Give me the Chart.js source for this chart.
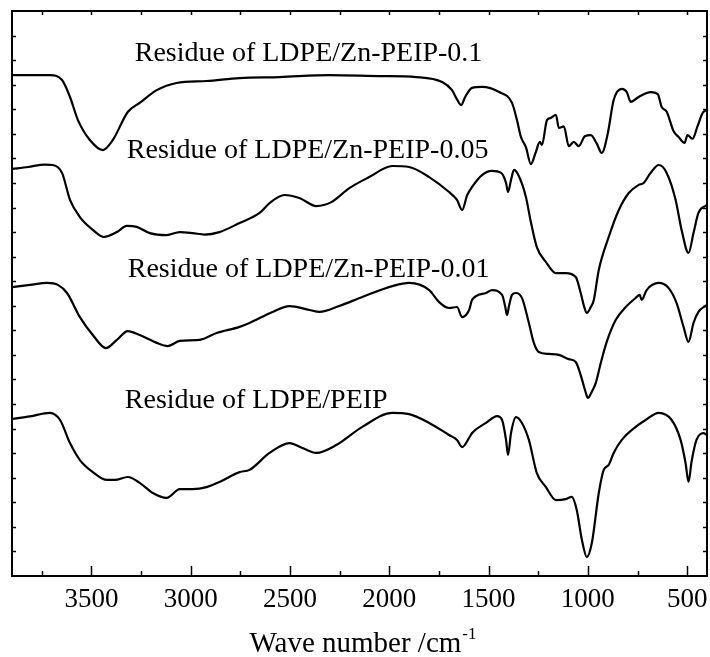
<!DOCTYPE html>
<html>
<head>
<meta charset="utf-8">
<script src="https://cdn.jsdelivr.net/npm/chart.js@4.4.0/dist/chart.umd.min.js"></script>
<style>
  html, body { margin: 0; padding: 0; background: #fff; }
  #wrap { width: 710px; height: 657px; }
</style>
</head>
<body>
<div id="wrap"><canvas id="c" width="710" height="657"></canvas></div>
<script>
// ---- Data (wave number in cm-1, transmittance in arbitrary offset units) ----
const seriesNames = [
  "Residue of LDPE/Zn-PEIP-0.1",
  "Residue of LDPE/Zn-PEIP-0.05",
  "Residue of LDPE/Zn-PEIP-0.01",
  "Residue of LDPE/PEIP"
];

const wn1 = [3900,3809,3709,3648,3608,3568,3508,3442,3392,3317,3257,3171,3071,2920,2754,2553,2302,2050,1865,1734,1684,1659,1638,1618,1583,1533,1447,1382,1357,1337,1312,1287,1262,1242,1231,1206,1186,1161,1146,1121,1096,1071,1046,1015,985,955,930,900,870,829,804,784,744,684,648,628,603,568,543,513,498,473,448,422,402];
const t1  = [20.39,20.39,20.39,20.19,19.50,18.56,17.75,17.34,17.75,18.89,19.26,19.78,20.07,20.15,20.27,20.31,20.39,20.35,20.31,20.11,19.78,19.4,19.17,19.5,19.87,19.91,19.70,19.26,18.56,17.87,17.46,16.77,17.26,17.67,17.55,18.56,18.65,18.77,18.24,18.3,17.5,17.67,17.5,17.9,17.95,17.6,17.22,18.0,19.38,19.83,19.70,19.30,19.50,19.70,19.62,19.09,18.9,18.1,17.87,17.63,17.95,17.8,18.3,18.85,18.97];

const wn2 = [3900,3819,3734,3694,3648,3608,3558,3493,3437,3372,3322,3272,3206,3121,3055,2990,2930,2855,2754,2653,2603,2528,2453,2367,2292,2201,2101,1985,1900,1799,1699,1659,1633,1608,1583,1533,1483,1437,1412,1402,1387,1372,1352,1312,1287,1257,1211,1161,1111,1061,1036,1020,1005,985,970,945,895,844,794,744,719,684,643,603,558,528,493,468,443,402];
const t2  = [16.57,16.65,16.75,16.73,16.41,15.31,14.61,14.09,13.80,14.0,14.25,14.21,13.96,13.88,14.0,13.96,13.9,14.0,14.37,14.78,15.18,15.51,15.39,15.06,15.22,15.79,16.24,16.69,16.65,16.24,15.63,15.31,14.90,15.5,15.84,16.32,16.49,16.41,16.0,15.63,16.12,16.53,16.35,15.43,14.41,13.39,12.78,12.33,12.33,12.17,11.52,11.0,10.71,10.95,11.24,12.46,13.80,14.90,15.59,15.92,16.0,16.41,16.73,16.41,15.31,14.09,13.15,13.96,14.78,15.10];

const wn3 = [3900,3809,3724,3669,3623,3558,3493,3427,3372,3317,3257,3171,3116,3055,2955,2870,2754,2704,2588,2503,2402,2352,2252,2136,1980,1900,1799,1749,1699,1659,1633,1598,1583,1513,1483,1432,1417,1407,1397,1382,1362,1332,1297,1272,1247,1196,1146,1096,1061,1036,1010,1000,980,960,935,905,860,809,759,739,729,704,643,593,553,518,493,468,443,402];
const t3  = [11.76,11.85,11.93,11.85,11.52,10.54,9.81,9.28,9.61,9.97,9.81,9.49,9.36,9.57,9.61,9.89,10.14,10.30,10.75,10.99,10.83,10.75,10.99,11.36,11.81,11.93,11.64,11.15,10.91,10.95,10.54,10.83,11.24,11.52,11.64,11.44,11.0,10.62,11.0,11.44,11.52,11.32,10.30,9.49,9.12,9.04,9.0,8.83,8.71,8.18,7.45,7.25,7.5,7.86,8.67,9.53,10.42,10.95,11.32,11.44,11.24,11.64,11.93,11.72,11.11,10.14,9.53,10.30,10.75,11.03];

const wn4 = [3900,3809,3709,3658,3608,3558,3493,3422,3382,3317,3257,3191,3121,3055,2990,2920,2855,2754,2704,2603,2503,2437,2367,2267,2136,1985,1900,1799,1699,1659,1633,1598,1583,1513,1457,1432,1412,1402,1387,1362,1332,1297,1257,1211,1161,1111,1081,1056,1030,1005,980,945,920,895,870,829,759,709,643,578,533,508,493,478,453,417,402];
const t4  = [6.39,6.5,6.64,6.35,5.41,4.72,4.23,3.91,3.91,4.03,3.79,3.38,3.18,3.54,3.54,3.62,3.83,4.23,4.32,5.01,5.41,5.21,5.01,5.33,6.07,6.64,6.59,6.23,5.74,5.54,5.25,5.62,5.82,6.23,6.51,6.35,5.54,4.93,5.82,6.47,6.23,5.54,4.19,3.62,3.09,3.13,3.22,2.69,1.47,0.77,1.34,3.38,4.32,4.52,5.01,5.54,6.07,6.35,6.64,6.35,5.54,4.60,3.83,4.64,5.54,5.82,5.74];

const xTickValues = [3500,3000,2500,2000,1500,1000,500];
const xMinorTickValues = [3750,3250,2750,2250,1750,1250,750];
const yTickValues = [1,2,3,4,5,6,7,8,9,10,11,12,13,14,15,16,17,18,19,20,21,22];

// label anchors (wave number of left edge, baseline level)
const labelWn = [3282, 3322, 3317, 3332];
const labelLevel = [20.96, 17.02, 12.17, 6.84];

const xTitle = "Wave number /cm";
const xTitleSup = "-1";

// ---- Build datasets ----
const wnAll = [wn1, wn2, wn3, wn4];
const tAll = [t1, t2, t3, t4];
const datasets = seriesNames.map((name, i) => ({
  label: name,
  data: wnAll[i].map((w, k) => ({ x: w, y: tAll[i][k] })),
  borderColor: '#000',
  borderWidth: 2.2,
  pointRadius: 0,
  fill: false,
  cubicInterpolationMode: 'monotone'
}));

const SERIF = '"Liberation Serif", "Times New Roman", serif';

const framePlugin = {
  id: 'frame',
  afterDraw(chart) {
    const ctx = chart.ctx;
    const a = chart.chartArea;
    const xs = chart.scales.x, ys = chart.scales.y;
    ctx.save();
    ctx.strokeStyle = '#000';
    ctx.lineWidth = 2;
    ctx.strokeRect(a.left, a.top, a.right - a.left, a.bottom - a.top);
    ctx.lineWidth = 1.5;
    ctx.beginPath();
    xTickValues.forEach(v => {
      const px = Math.round(xs.getPixelForValue(v)) + 0.5;
      ctx.moveTo(px, a.bottom); ctx.lineTo(px, a.bottom - 10);
      ctx.moveTo(px, a.top); ctx.lineTo(px, a.top + 4);
    });
    xMinorTickValues.forEach(v => {
      const px = Math.round(xs.getPixelForValue(v)) + 0.5;
      ctx.moveTo(px, a.bottom); ctx.lineTo(px, a.bottom - 5);
      ctx.moveTo(px, a.top); ctx.lineTo(px, a.top + 4);
    });
    yTickValues.forEach(v => {
      const py = Math.round(ys.getPixelForValue(v)) + 0.5;
      ctx.moveTo(a.left, py); ctx.lineTo(a.left + 4, py);
      ctx.moveTo(a.right, py); ctx.lineTo(a.right - 4, py);
    });
    ctx.stroke();

    // curve labels
    ctx.fillStyle = '#000';
    ctx.font = '28px ' + SERIF;
    ctx.textAlign = 'left';
    ctx.textBaseline = 'alphabetic';
    seriesNames.forEach((name, i) => {
      ctx.fillText(name, xs.getPixelForValue(labelWn[i]), ys.getPixelForValue(labelLevel[i]));
    });

    // axis title with superscript
    ctx.font = '29px ' + SERIF;
    const w1 = ctx.measureText(xTitle).width;
    ctx.font = '17px ' + SERIF;
    const w2 = ctx.measureText(xTitleSup).width;
    const cx = (a.left + a.right) / 2 + 3;
    const startX = cx - (w1 + w2) / 2;
    const baseY = 652;
    ctx.font = '29px ' + SERIF;
    ctx.fillText(xTitle, startX, baseY);
    ctx.font = '17px ' + SERIF;
    ctx.fillText(xTitleSup, startX + w1 + 1, baseY - 13);
    ctx.restore();
  }
};

new Chart(document.getElementById('c'), {
  type: 'line',
  data: { datasets },
  options: {
    responsive: false,
    animation: false,
    devicePixelRatio: 1,
    layout: { padding: { left: 0, right: 3, top: 11, bottom: 0 } },
    plugins: { legend: { display: false }, tooltip: { enabled: false } },
    scales: {
      x: {
        type: 'linear',
        reverse: true,
        min: 400,
        max: 3900,
        grid: { display: false, drawTicks: false },
        border: { display: false },
        afterBuildTicks: s => { s.ticks = xTickValues.map(v => ({ value: v })); },
        afterFit: s => { s.height = 81; s.paddingLeft = 0; s.paddingRight = 0; },
        ticks: {
          color: '#000',
          font: { family: SERIF, size: 27 },
          padding: 8,
          maxRotation: 0,
          autoSkip: false,
          callback: v => String(v)
        }
      },
      y: {
        type: 'linear',
        min: 0,
        max: 23,
        grid: { display: false, drawTicks: false },
        border: { display: false },
        afterFit: s => { s.width = 12; s.paddingTop = 0; s.paddingBottom = 0; },
        ticks: { display: false }
      }
    }
  },
  plugins: [framePlugin]
});
</script>
</body>
</html>
